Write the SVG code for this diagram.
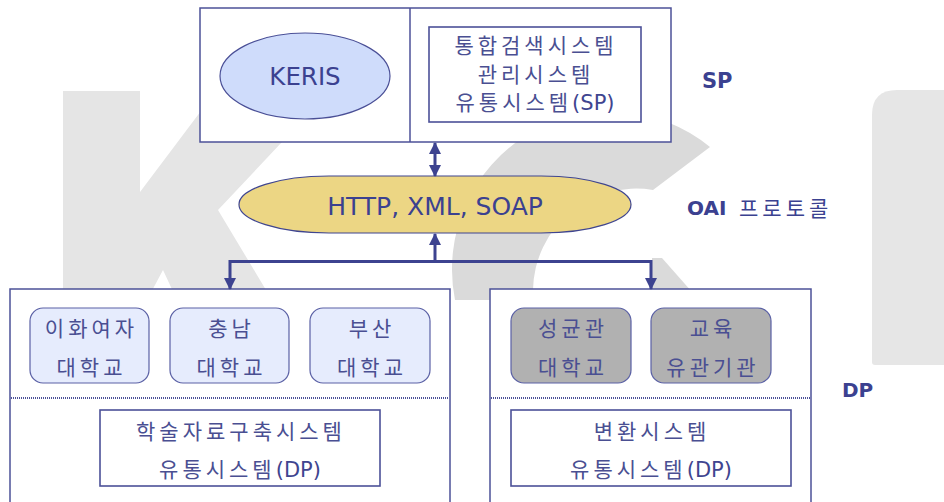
<svg xmlns="http://www.w3.org/2000/svg" width="944" height="502" viewBox="0 0 944 502">
<defs>
<style>
.frame{fill:#fff;stroke:#4c5198;stroke-width:1.5}
.inner{fill:#fff;stroke:#4c5198;stroke-width:1.6}
.uni{fill:#e6ecfd;stroke:#5a60a5;stroke-width:1.2}
.grey{fill:#b1b1b1;stroke:#5a60a5;stroke-width:1.2}
.dots{stroke:#4c5198;stroke-width:2;stroke-dasharray:1 1;fill:none}
.conn{stroke:#3d4390;stroke-width:3;fill:none}
.ko{font-family:"DejaVu Sans","Noto Sans CJK KR",sans-serif;font-size:21px;fill:#4a4f92;letter-spacing:4px;text-anchor:middle}
.la{letter-spacing:0px;fill:#3f4590;font-size:21px}
.lat{font-family:"DejaVu Sans","Noto Sans CJK KR",sans-serif;fill:#3b4190;text-anchor:middle}
.lbl{font-family:"DejaVu Sans","Noto Sans CJK KR",sans-serif;fill:#3b4190;font-weight:bold}
</style>
<marker id="ah" viewBox="0 0 12 12" refX="11" refY="6" markerWidth="12" markerHeight="12" markerUnits="userSpaceOnUse" orient="auto-start-reverse">
<path d="M0,0 L12,6 L0,12 Z" fill="#3d4390"/>
</marker>
</defs>
<rect width="944" height="502" fill="#fff"/>
<g id="watermark">
<polygon points="63,91 140,91 140,192 216,91 330,91 218,210 272,300 177,300 163,270 147,300 63,300" fill="#e5e5e5"/>
<path d="M455,300 A158,158 0 0 1 710,147 L653,190 A103,103 0 0 0 533,290 L533,300 Z" fill="#dadada"/>
<polygon points="652,258 662,258 692,292 652,292" fill="#dadada"/>
<path d="M872,115 Q872,90 897,90 L944,90 L944,365 L875,365 Q872,365 872,362 Z" fill="#e6e6e6"/>
</g>
<g id="sp-box">
<rect class="frame" x="200" y="8" width="471" height="134"/>
<line x1="410" y1="8" x2="410" y2="142" stroke="#4c5198" stroke-width="1.5"/>
</g>
<g id="keris">
<ellipse cx="305" cy="76" rx="85" ry="43" fill="#cfdcfb" stroke="#4a4f96" stroke-width="1.2"/>
<text class="lat" x="305" y="85" font-size="24.5">KERIS</text>
</g>
<g id="sp-systems">
<rect class="inner" x="429" y="27" width="212" height="95"/>
<text class="ko" x="536" y="53">통합검색시스템</text>
<text class="ko" x="536" y="82">관리시스템</text>
<text class="ko" x="535" y="110">유통시스템<tspan class="la">(SP)</tspan></text>
</g>
<g id="protocol">
<rect x="239" y="176" width="392" height="57" rx="90" ry="28.5" fill="#ecd684" stroke="#3f4590" stroke-width="1.2"/>
<text class="lat" x="435" y="215" font-size="25">HTTP, XML, SOAP</text>
</g>
<g id="labels">
<text class="lbl" x="702" y="88" font-size="21">SP</text>
<text class="lbl" x="687" y="215" font-size="20">OAI</text>
<text class="ko" x="739" y="216" style="text-anchor:start;fill:#3b4190">프로토콜</text>
<text class="lbl" x="842" y="397" font-size="20">DP</text>
</g>
<g id="dp-left">
<rect class="frame" x="10" y="289" width="440" height="230"/>
<line class="dots" x1="11" y1="398" x2="449" y2="398"/>
</g>
<g id="ewha">
<rect class="uni" x="30" y="308" width="119" height="75" rx="13"/>
<text class="ko" x="91.5" y="336">이화여자</text>
<text class="ko" x="91.5" y="375">대학교</text>
</g>
<g id="chungnam">
<rect class="uni" x="170" y="308" width="119" height="75" rx="13"/>
<text class="ko" x="231.5" y="336">충남</text>
<text class="ko" x="231.5" y="375">대학교</text>
</g>
<g id="busan">
<rect class="uni" x="310" y="308" width="120" height="75" rx="13"/>
<text class="ko" x="372" y="336">부산</text>
<text class="ko" x="372" y="375">대학교</text>
</g>
<g id="dp-left-system">
<rect class="inner" x="100" y="410" width="280" height="76"/>
<text class="ko" x="241" y="439">학술자료구축시스템</text>
<text class="ko" x="240" y="477">유통시스템<tspan class="la">(DP)</tspan></text>
</g>
<g id="dp-right">
<rect class="frame" x="490" y="289" width="321" height="230"/>
<line class="dots" x1="491" y1="398" x2="810" y2="398"/>
</g>
<g id="skku">
<rect class="grey" x="511" y="308" width="120" height="75" rx="13"/>
<text class="ko" x="573" y="336">성균관</text>
<text class="ko" x="573" y="375">대학교</text>
</g>
<g id="edu">
<rect class="grey" x="651" y="308" width="120" height="75" rx="13"/>
<text class="ko" x="713" y="336">교육</text>
<text class="ko" x="713" y="375">유관기관</text>
</g>
<g id="dp-right-system">
<rect class="inner" x="511" y="410" width="280" height="76"/>
<text class="ko" x="652" y="439">변환시스템</text>
<text class="ko" x="651" y="477">유통시스템<tspan class="la">(DP)</tspan></text>
</g>
<g id="connectors">
<line class="conn" x1="435" y1="143" x2="435" y2="176" marker-start="url(#ah)" marker-end="url(#ah)"/>
<line class="conn" x1="435" y1="262" x2="435" y2="234" marker-end="url(#ah)"/>
<polyline class="conn" points="230,289 230,261.5 651,261.5 651,289" marker-start="url(#ah)" marker-end="url(#ah)"/>
</g>
</svg>
